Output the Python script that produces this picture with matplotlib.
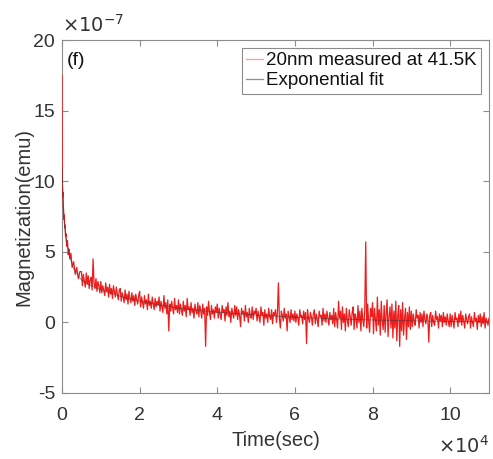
import numpy as np
import matplotlib
matplotlib.use("Agg")
import matplotlib.pyplot as plt
from matplotlib.ticker import FuncFormatter
from matplotlib.lines import Line2D

plt.rcParams['font.family'] = ['Liberation Sans', 'DejaVu Sans']
plt.rcParams['axes.unicode_minus'] = False

# Data (magnetization in units of 1e-7 emu, time in sec)

t_early = [0, 20, 40, 60, 80, 100, 150, 200, 250, 300, 400, 500, 600, 700, 800,
           900, 1000, 1200, 1400, 1600, 1800, 2000, 2300, 2600, 3000, 3400, 3800,
           4200, 4600]
m_early = [17.5, 13.0, 11.6, 10.4, 10.9, 9.8, 9.5, 8.9, 9.2, 8.4, 8.0, 7.3, 7.6,
           6.7, 6.9, 6.1, 6.3, 5.4, 5.8, 4.8, 5.2, 4.5, 4.9, 3.9, 4.3, 3.4, 3.9,
           3.1, 3.6]

t_bulk = list(range(5000, 110001, 250))     # sampling grid, 250 s
m_bulk = [
    3.6, 2.6, 3.4, 2.9, 2.5, 3.5, 2.7, 3.3, 2.4, 3.0, 3.2, 2.3, 4.5, 2.8, 2.4, 3.1, 2.2, 2.9, 2.6, 2.1,
    2.9, 2.1, 2.6, 2.3, 1.9, 2.8, 2.2, 2.5, 1.8, 2.7, 2.0, 2.4, 1.7, 2.6, 2.2, 1.8, 2.5, 2.0, 1.6, 2.3,
    2.4, 1.5, 2.1, 1.8, 1.4, 2.3, 1.6, 2.0, 1.3, 2.2, 1.7, 1.4, 2.1, 1.5, 1.9, 1.2, 2.0, 1.6, 1.3, 1.9,
    2.2, 1.1, 1.8, 1.4, 1.0, 1.9, 1.3, 1.6, 0.9, 2.0, 1.2, 1.5, 1.0, 1.8, 1.3, 0.9, 1.7, 1.1, 1.5, 1.2,
    1.8, 0.8, 1.5, 1.1, 0.7, 1.9, 1.0, 1.4, 0.6, 1.6, -0.6, 1.3, 0.8, 1.5, 1.0, 0.6, 1.7, 0.9, 1.2, 0.7,
    1.6, 0.6, 1.3, 0.9, 0.5, 1.5, 0.8, 1.2, 0.4, 1.7, 0.9, 1.1, 0.5, 1.4, 0.7, 1.0, 0.3, 1.3, 0.8, 0.6,
    1.4, 0.4, 1.2, 0.8, 0.3, 1.3, 0.6, 1.0, -1.7, 1.1, 0.5, 1.5, 0.7, 0.2, 1.2, 0.6, 0.9, 0.3, 1.1, 0.7,
    1.3, 0.3, 1.0, 0.6, 0.2, 1.2, 0.7, 0.9, 0.1, 1.1, 0.5, 1.4, 0.4, 0.8, 0.0, 1.0, 0.6, 0.3, 1.2, 0.5,
    1.1, 0.2, 0.9, 0.5, -0.3, 1.0, 0.6, 0.8, 0.1, 1.2, 0.4, 0.7, 0.0, 1.0, 0.5, 0.3, 1.1, 0.2, 0.8, 0.6,
    1.0, 0.1, 0.8, 0.4, 0.0, 1.1, 0.5, 0.7, -0.2, 0.9, 0.3, 0.6, 0.0, 1.0, 0.4, 0.2, 0.9, -0.1, 0.7, 0.5,
    0.9, 0.0, 0.7, 2.8, 0.3, -0.4, 0.8, 0.5, 0.1, 1.0, 0.3, 0.6, -0.6, 0.8, 0.4, 0.0, 0.9, 0.2, 0.6, 0.1,
    0.8, 0.0, 0.6, 0.3, -0.2, 0.9, 0.4, 0.5, -0.1, 0.8, 0.2, 0.7, -1.5, 0.9, 0.3, 0.0, 0.7, 0.4, -0.2, 0.6,
    0.9, -0.1, 0.6, 0.2, -0.3, 0.8, 0.4, 0.5, -0.2, 1.0, 0.1, 0.6, 0.0, 0.8, 0.3, -0.2, 0.7, 0.2, 0.5, -0.1,
    1.0, -0.3, 0.7, 0.2, -0.4, 1.5, 0.3, 0.8, -0.5, 1.1, 0.0, 0.6, -0.6, 1.0, 0.2, -0.3, 0.9, 0.4, -0.2, 0.7,
    1.1, -0.5, 0.6, 0.3, -0.4, 1.2, 0.0, 0.8, -0.6, 1.0, 0.2, -0.3, 0.9, 5.7, -0.4, 1.3, 0.1, -0.7, 1.0, 0.4,
    1.4, -0.8, 1.0, 0.2, -0.6, 1.8, -0.2, 0.9, -0.9, 1.5, 0.1, -0.5, 1.2, -0.7, 0.6, 1.6, -1.0, 0.4, 1.1, -0.4,
    1.3, -1.1, 0.8, -0.4, 1.5, -1.3, 0.5, 1.2, -1.7, 0.9, -0.6, 1.4, -0.9, 0.3, 1.0, -1.2, 0.7, -0.3, 1.1, -0.5,
    0.8, -0.3, 0.6, 0.1, -0.2, 0.9, 0.3, 0.5, -0.4, 0.7, 0.0, 0.6, -0.3, 0.8, 0.2, -0.1, 0.6, 0.3, -1.4, 0.5,
    0.7, -0.3, 0.5, 0.0, -0.2, 0.8, 0.2, 0.4, -0.4, 0.6, 0.1, 0.5, -0.3, 0.7, 0.0, 0.4, -0.2, 0.6, 0.1, -0.3,
    0.6, -0.3, 0.5, 0.1, -0.4, 0.7, 0.2, 0.3, -0.3, 0.6, 0.0, 0.8, -0.2, 0.5, 0.1, -0.4, 0.6, 0.2, -0.1, 0.4,
    0.6, -0.4, 0.4, 0.0, -0.3, 0.7, 0.1, 0.3, -0.5, 0.5, 0.0, 0.6, -0.3, 0.4, -0.1, 0.7, -0.4, 0.3, 0.1, -0.2, 0.3]

t_fit = [0, 300, 600, 1000, 2000, 3000, 5000, 7500, 10000, 15000, 20000, 30000,
         40000, 50000, 60000, 70000, 80000, 90000, 100000, 110000]
m_fit = [11.0, 8.3, 7.0, 6.0, 4.6, 3.8, 3.0, 2.6, 2.3, 1.85, 1.5, 1.0, 0.72,
         0.52, 0.37, 0.25, 0.17, 0.11, 0.07, 0.04]

labels = ['20nm measured at 41.5K', 'Exponential fit']

t_meas = np.array(t_early + t_bulk)
m_meas = np.array(m_early + m_bulk) * 1e-7

fig = plt.figure(figsize=(4.93, 4.59), dpi=100)
ax = fig.add_axes([0.1258, 0.1438, 0.866, 0.769])

ax.plot(t_meas, m_meas, color='#f01c1c', lw=0.9, zorder=3)
ax.plot(t_fit, np.array(m_fit) * 1e-7, color='#3a3a3a', lw=0.6, alpha=0.6, zorder=4)

ax.set_xlim(0, 110000)
ax.set_ylim(-5e-7, 20e-7)
ax.set_xticks([0, 20000, 40000, 60000, 80000, 100000])
ax.set_yticks(np.array([-5, 0, 5, 10, 15, 20]) * 1e-7)
ax.xaxis.set_major_formatter(FuncFormatter(lambda v, p: '%g' % round(v / 1e4, 6)))
ax.yaxis.set_major_formatter(FuncFormatter(lambda v, p: '%g' % round(v / 1e-7, 6)))

txt = '#333333'
for s in ax.spines.values():
    s.set_color('#8c8c8c')
    s.set_linewidth(0.8)
ax.tick_params(direction='in', top=True, right=True, length=4, width=0.8,
               color='#8c8c8c', labelsize=14, labelcolor=txt)
ax.tick_params(axis='x', pad=10)
ax.tick_params(axis='y', pad=5)

ax.text(0.0, 1.012, r'$\times10^{-7}$', transform=ax.transAxes, fontsize=14,
        color=txt, ha='left', va='bottom')
ax.text(1.0, -0.12, r'$\times10^{4}$', transform=ax.transAxes, fontsize=14,
        color=txt, ha='right', va='top')

ax.set_xlabel('Time(sec)', fontsize=14.5, color=txt, labelpad=5)
ax.set_ylabel('Magnetization(emu)', fontsize=14.5, color=txt, labelpad=0)

ax.text(0.012, 0.965, '(f)', transform=ax.transAxes, fontsize=14, color='#111111',
        va='top', ha='left')

handles = [Line2D([], [], color='#f5a08c', lw=0.9),
           Line2D([], [], color='#8f8f8f', lw=0.9)]
leg = ax.legend(handles, labels, loc='upper right', fontsize=13.5, handlelength=0.9,
                handletextpad=0.15, borderpad=0.25, labelspacing=0.15,
                borderaxespad=0.4, fancybox=False, framealpha=1)
leg.set_zorder(5)
leg.get_frame().set_edgecolor('#8c8c8c')
leg.get_frame().set_linewidth(0.8)
for t in leg.get_texts():
    t.set_color('#111111')

fig.savefig('out.png', dpi=100)
